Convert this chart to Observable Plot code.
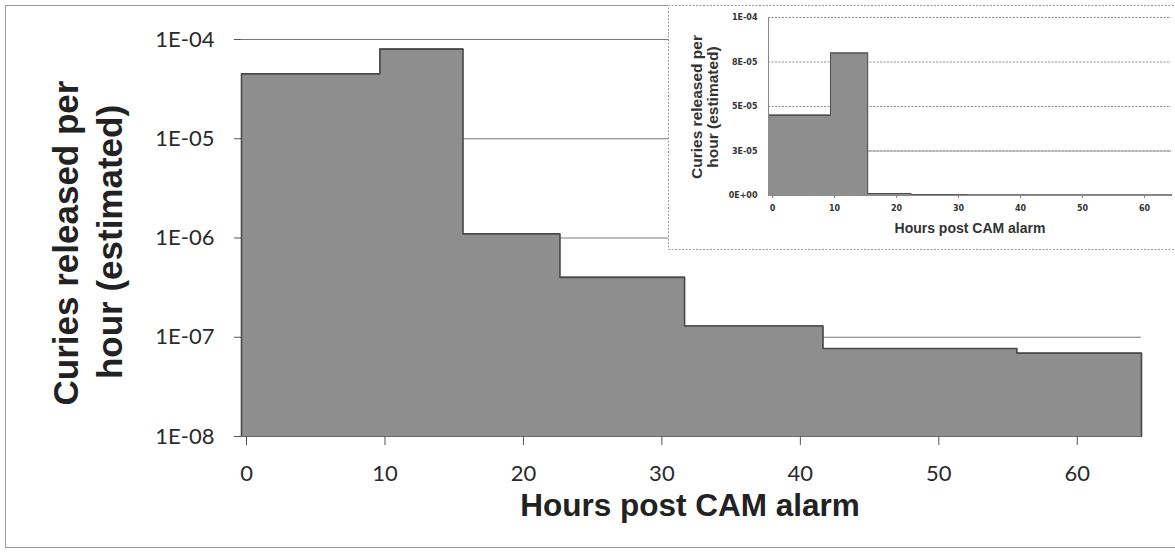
<!DOCTYPE html>
<html>
<head>
<meta charset="utf-8">
<script src="https://cdn.jsdelivr.net/npm/d3@7"></script>
<script src="https://cdn.jsdelivr.net/npm/@observablehq/plot@0.6"></script>
<style>
  html, body { margin: 0; padding: 0; background: #fff; }
  #wrap { position: relative; width: 1175px; height: 560px; overflow: hidden; background: #fff; }
  #main { position: absolute; left: 0; top: 0; }
  #inset { position: absolute; left: 668px; top: 0; }
</style>
</head>
<body>
<div id="wrap"><div id="main"></div><div id="inset"></div></div>
<script>
// ---- data ----
const binEdges = [0, 10, 16, 23, 32, 42, 56, 65];          // hours post CAM alarm
const releaseRates = [4.5e-5, 8.0e-5, 1.1e-6, 4.0e-7, 1.3e-7, 7.7e-8, 6.9e-8]; // Ci per hour
const xTicks = [0, 10, 20, 30, 40, 50, 60];
const mainYTicks = [1e-8, 1e-7, 1e-6, 1e-5, 1e-4];
const mainYTickLabels = ["1E-08", "1E-07", "1E-06", "1E-05", "1E-04"];
const insetYTicks = [0, 2.5e-5, 5e-5, 7.5e-5, 1e-4];
const insetYTickLabels = ["0E+00", "3E-05", "5E-05", "8E-05", "1E-04"];
const yTitleLines = ["Curies released per", "hour (estimated)"];
const xTitle = "Hours post CAM alarm";

const mainBase = mainYTicks[0];
const insetBase = insetYTicks[0];
const n = releaseRates.length;

function barsFor(base) {
  return releaseRates.map((v, i) => ({x1: binEdges[i], x2: binEdges[i + 1], y1: base, y2: v}));
}
function outlineFor(base) {
  return [
    {x: binEdges[0], y: base},
    ...releaseRates.map((v, i) => ({x: binEdges[i], y: v})),
    {x: binEdges[n], y: releaseRates[n - 1]},
    {x: binEdges[n], y: base}
  ];
}
const mainLabel = new Map(mainYTicks.map((t, i) => [t, mainYTickLabels[i]]));
const insetLabel = new Map(insetYTicks.map((t, i) => [t, insetYTickLabels[i]]));

const FILL = "#8e8e8e", EDGE = "#4a4a4a";

// ---- main chart ----
const main = Plot.plot({
  width: 1175, height: 560,
  marginLeft: 241, marginRight: 34, marginTop: 39, marginBottom: 124,
  style: {background: "white", fontFamily: "Lato, 'Open Sans', sans-serif", fontSize: "22px", color: "#2a2a2a"},
  x: {domain: [binEdges[0], binEdges[n]]},
  y: {type: "log", domain: [mainYTicks[0], mainYTicks[mainYTicks.length - 1]]},
  marks: [
    Plot.ruleY(mainYTicks.slice(1), {stroke: "#7a7a7a", strokeWidth: 1}),
    Plot.rectY(barsFor(mainBase), {x1: "x1", x2: "x2", y1: "y1", y2: "y2", fill: FILL, stroke: FILL, strokeWidth: 1, shapeRendering: "crispEdges"}),
    Plot.line(outlineFor(mainBase), {x: "x", y: "y", curve: "step-after", stroke: EDGE, strokeWidth: 1.6}),
    Plot.ruleY([mainBase], {stroke: "#6a6a6a", strokeWidth: 1.2}),
    Plot.axisY({ticks: mainYTicks, tickFormat: d => mainLabel.get(d), tickSize: 7, tickPadding: 20, stroke: "#555", fill: "#2a2a2a", label: null}),
    Plot.axisX({ticks: xTicks, tickSize: 9, tickPadding: 20, dx: 5, stroke: "#555", fill: "#2a2a2a", label: null})
  ]
});
document.getElementById("main").appendChild(main);

const ms = d3.select(main);
ms.append("rect").attr("x", 5.5).attr("y", 5.5).attr("width", 1190).attr("height", 542)
  .attr("fill", "none").attr("stroke", "#9a9a9a").attr("stroke-width", 1);
ms.append("text").attr("transform", "translate(78,243) rotate(-90)")
  .attr("text-anchor", "middle").attr("font-family", "'Liberation Sans', Arial, sans-serif")
  .attr("font-weight", "bold").attr("font-size", 35).attr("fill", "#222").text(yTitleLines[0]);
ms.append("text").attr("transform", "translate(122,242) rotate(-90)")
  .attr("text-anchor", "middle").attr("font-family", "'Liberation Sans', Arial, sans-serif")
  .attr("font-weight", "bold").attr("font-size", 35).attr("fill", "#222").text(yTitleLines[1]);
ms.append("text").attr("x", 690).attr("y", 516)
  .attr("text-anchor", "middle").attr("font-family", "'Liberation Sans', Arial, sans-serif")
  .attr("font-weight", "bold").attr("font-size", 31.5).attr("fill", "#222").text(xTitle);

// ---- inset chart ----
const inset = Plot.plot({
  width: 507, height: 251,
  marginLeft: 100, marginRight: 4, marginTop: 17, marginBottom: 56,
  style: {background: "white", fontFamily: "'DejaVu Sans', Verdana, sans-serif", fontSize: "8px", fontWeight: "bold", color: "#333"},
  x: {domain: [binEdges[0], binEdges[n]]},
  y: {domain: [insetYTicks[0], insetYTicks[insetYTicks.length - 1]]},
  marks: [
    Plot.ruleY(insetYTicks.slice(1), {stroke: "#8a8a8a", strokeWidth: 1, strokeDasharray: "2,1.5"}),
    Plot.ruleY([insetYTicks[1]], {stroke: "#9a9a9a", strokeWidth: 1}),
    Plot.rectY(barsFor(insetBase), {x1: "x1", x2: "x2", y1: "y1", y2: "y2", fill: FILL, stroke: FILL, strokeWidth: 1, shapeRendering: "crispEdges"}),
    Plot.line(outlineFor(insetBase), {x: "x", y: "y", curve: "step-after", stroke: EDGE, strokeWidth: 1}),
    Plot.ruleY([insetBase], {stroke: "#8a8a8a", strokeWidth: 1}),
    Plot.ruleX([binEdges[0]], {stroke: "#8a8a8a", strokeWidth: 1}),
    Plot.axisY({ticks: insetYTicks, tickFormat: d => insetLabel.get(d), tickSize: 0, tickPadding: 11, fill: "#333", label: null}),
    Plot.axisX({ticks: xTicks, tickSize: 3, tickPadding: 7, dx: 4, stroke: "#888", fill: "#333", label: null})
  ]
});
document.getElementById("inset").appendChild(inset);

const is = d3.select(inset);
is.append("path").attr("d", "M520,5.5 H0.5 V249.5 H520")
  .attr("fill", "none").attr("stroke", "#9a9a9a").attr("stroke-width", 1).attr("stroke-dasharray", "2,1.5");
is.append("text").attr("transform", "translate(34,107) rotate(-90)")
  .attr("text-anchor", "middle").attr("font-family", "'Liberation Sans', Arial, sans-serif")
  .attr("font-weight", "bold").attr("font-size", 15.5).attr("fill", "#333").text(yTitleLines[0]);
is.append("text").attr("transform", "translate(50,107) rotate(-90)")
  .attr("text-anchor", "middle").attr("font-family", "'Liberation Sans', Arial, sans-serif")
  .attr("font-weight", "bold").attr("font-size", 15.5).attr("fill", "#333").text(yTitleLines[1]);
is.append("text").attr("x", 302).attr("y", 233)
  .attr("text-anchor", "middle").attr("font-family", "'Liberation Sans', Arial, sans-serif")
  .attr("font-weight", "bold").attr("font-size", 14).attr("fill", "#333").text(xTitle);
</script>
</body>
</html>
